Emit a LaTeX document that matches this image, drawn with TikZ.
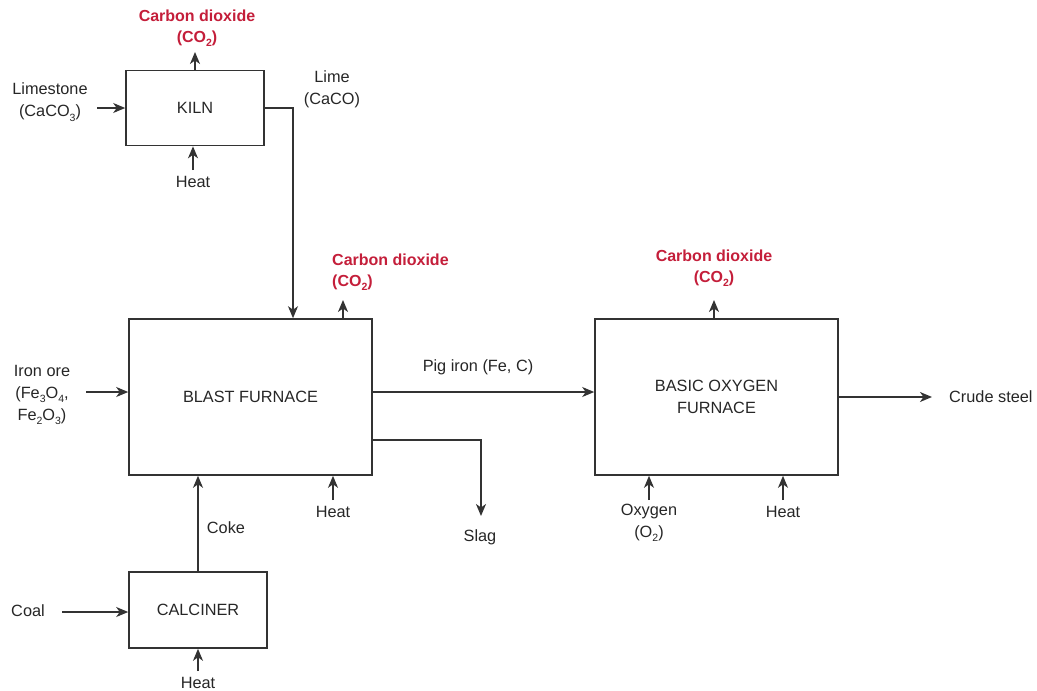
\documentclass[tikz,border=0pt]{standalone}
\usepackage{fontspec}
\setmainfont{Liberation Sans}
\usetikzlibrary{arrows.meta}
\definecolor{ln}{HTML}{333333}
\definecolor{co}{HTML}{C41E3A}
\newcommand{\lowsub}[1]{\raisebox{-0.5ex}{\fontsize{10.5}{10}\selectfont #1}}
\tikzset{
  proc/.style={draw=ln, line width=1.6pt, inner sep=0pt},
  lab/.style={text=black!85, font=\fontsize{16.3}{22}\selectfont, align=center, inner sep=1pt},
  red/.style={text=co, font=\fontsize{16}{21}\selectfont\bfseries, align=center, inner sep=1pt},
  arr/.style={draw=ln, line width=1.4pt, -{Stealth[length=12pt,width=10pt,inset=3.5pt]}},
}
\begin{document}
\begin{tikzpicture}[x=1pt,y=-1pt]
\useasboundingbox (0,0) rectangle (1037,691);
% boxes
\node[proc, minimum width=138pt, minimum height=75pt, lab] (kiln) at (195,108) {KILN};
\node[proc, minimum width=243pt, minimum height=156pt, lab] (blast) at (250.5,397) {BLAST FURNACE};
\node[proc, minimum width=138pt, minimum height=76pt, lab] (calc) at (198,610) {CALCINER};
\node[proc, minimum width=243pt, minimum height=156pt, lab] (bof) at (716.5,397) {BASIC OXYGEN\\FURNACE};
% kiln
\node[red] (co1) at (197,28) {Carbon dioxide\\(CO\lowsub{2})};
\coordinate (co1e) at (195,52);
\draw[arr] (kiln.north -| co1e) -- (co1e);
\node[lab] (lime) at (50,102) {Limestone\\(CaCO\lowsub{3})};
\coordinate (lims) at (97,108);
\draw[arr] (lims) -- (kiln.west |- lims);
\node[lab] (h1) at (193,182) {Heat};
\coordinate (h1s) at (193,170);
\draw[arr] (h1s) -- (kiln.south -| h1s);
\node[lab] (limel) at (332,89) {Lime\\(CaCO)};
\coordinate (lk) at (293,108);
\draw[arr] (kiln.east |- lk) -- (lk) -- (blast.north -| lk);
% blast
\node[red, align=left, anchor=west] (co2) at (331,272) {Carbon dioxide\\(CO\lowsub{2})};
\coordinate (co2e) at (343,300);
\draw[arr] (blast.north -| co2e) -- (co2e);
\node[lab] (ore) at (42,395) {Iron ore\\(Fe\lowsub{3}O\lowsub{4},\\Fe\lowsub{2}O\lowsub{3})};
\coordinate (ores) at (86,392);
\draw[arr] (ores) -- (blast.west |- ores);
\coordinate (pig) at (372,392);
\draw[arr] (blast.east |- pig) -- (bof.west |- pig);
\node[lab] (pigl) at (478,367) {Pig iron (Fe, C)};
\coordinate (sl1) at (481,440);
\coordinate (sl2) at (481,516);
\draw[arr] (blast.east |- sl1) -- (sl1) -- (sl2);
\node[lab] (slag) at (480,537) {Slag};
\node[lab] (h2) at (333,512) {Heat};
\coordinate (h2s) at (333,500);
\draw[arr] (h2s) -- (blast.south -| h2s);
\coordinate (ck) at (198,500);
\draw[arr] (calc.north -| ck) -- (blast.south -| ck);
\node[lab] (coke) at (226,528) {Coke};
% calciner
\node[lab] (coal) at (28,611) {Coal};
\coordinate (coals) at (62,612);
\draw[arr] (coals) -- (calc.west |- coals);
\node[lab] (h3) at (198,683) {Heat};
\coordinate (h3s) at (198,671);
\draw[arr] (h3s) -- (calc.south -| h3s);
% bof
\node[red] (co3) at (714,268) {Carbon dioxide\\(CO\lowsub{2})};
\coordinate (co3e) at (714,300);
\draw[arr] (bof.north -| co3e) -- (co3e);
\node[lab] (oxy) at (649,523) {Oxygen\\(O\lowsub{2})};
\coordinate (oxs) at (649,500);
\draw[arr] (oxs) -- (bof.south -| oxs);
\node[lab] (h4) at (783,512) {Heat};
\coordinate (h4s) at (783,500);
\draw[arr] (h4s) -- (bof.south -| h4s);
\coordinate (cs) at (932,397);
\draw[arr] (bof.east |- cs) -- (cs);
\node[lab, anchor=west] (crude) at (948,397) {Crude steel};
\end{tikzpicture}
\end{document}
